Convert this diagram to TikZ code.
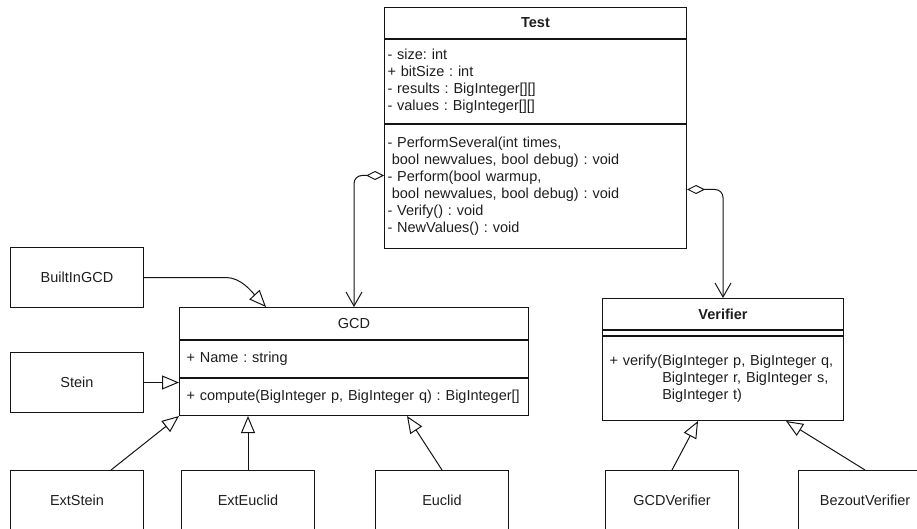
\documentclass[tikz,border=0pt]{standalone}
\usepackage{fontspec}
\setmainfont{Liberation Sans}
\usepackage{xcolor}
\definecolor{umlline}{RGB}{20, 20, 20}
\definecolor{umltext}{RGB}{30, 30, 30}
\newcommand{\umlsize}{\fontsize{14.5}{17}\selectfont\frenchspacing}
\usetikzlibrary{arrows.meta, positioning}

\begin{document}
\begin{tikzpicture}[x=1pt, y=-1pt, line width=1pt, node distance=0pt,
  umlbox/.style={draw=umlline, text=umltext, font=\umlsize, inner sep=0pt},
  classhead/.style={umlbox, font=\umlsize\bfseries, minimum height=31pt},
  members/.style={umlbox, align=left, inner xsep=7pt, text width=#1},
  plainclass/.style={umlbox, minimum width=133pt, minimum height=60pt, anchor=north west},
  inherit/.style={draw=umlline, -{Triangle[open, length=17pt, width=14pt]}},
  aggr/.style={draw=umlline, rounded corners=8pt,
    {Diamond[open, length=18pt, width=9pt]}-{Straight Barb[length=14pt, width=16pt]}}]
  \useasboundingbox (0,0) rectangle (917,529);
  \clip (0,0) rectangle (917,529);

  \node[classhead, minimum width=302pt, anchor=north west] (testhead) at (384,7) {Test};
  \node[members=296pt, inner xsep=3pt, minimum height=84pt, below=of testhead] (testattr)
    {- size: int\\+ bitSize : int\\- results : BigInteger[][]\\- values : BigInteger[][]};
  \node[members=296pt, inner xsep=3pt, minimum height=124pt, below=of testattr] (testops)
    {- PerformSeveral(int times,\\\hspace*{.3em}bool newvalues, bool debug) : void\\- Perform(bool warmup,\\\hspace*{.3em}bool newvalues, bool debug) : void\\- Verify() : void\\- NewValues() : void};

  \node[classhead, font=\umlsize, minimum width=349pt, minimum height=32pt, anchor=north west] (gcdhead) at (179,307) {GCD};
  \node[members=335pt, minimum height=37pt, below=of gcdhead] (gcdattr) {+ Name : string};
  \node[members=335pt, minimum height=37pt, below=of gcdattr] (gcdops)
    {+ compute(BigInteger p, BigInteger q) : BigInteger[]};

  \node[classhead, minimum width=241pt, anchor=north west] (verifierhead) at (602,298) {Verifier};
  \node[umlbox, minimum width=241pt, minimum height=5pt, below=of verifierhead] (verifierattr) {};
  \node[members=227pt, minimum height=84pt, below=of verifierattr] (verifierops)
    {+ verify(BigInteger p, BigInteger q,\\\phantom{+ verify(}BigInteger r, BigInteger s,\\\phantom{+ verify(}BigInteger t)};

  \node[plainclass] (builtin) at (10,247) {BuiltInGCD};
  \node[plainclass] (stein) at (10,352) {Stein};
  \node[plainclass] (extstein) at (10,470) {ExtStein};
  \node[plainclass, right=37pt of extstein] (exteuclid) {ExtEuclid};
  \node[plainclass, right=60pt of exteuclid] (euclid) {Euclid};
  \node[plainclass, right=96pt of euclid] (gcdverifier) {GCDVerifier};
  \node[plainclass, right=59pt of gcdverifier] (bezout) {BezoutVerifier};

  \draw[inherit] (builtin.east) -- ++(82,0) .. controls +(15,0) and +(-14,-15) .. ([xshift=87pt]gcdhead.north west);
  \draw[inherit] (stein.east) -- (stein.east -| gcdops.west);
  \draw[inherit] ([xshift=34pt]extstein.north) -- (gcdops.south west);
  \draw[inherit] (exteuclid.north) -- (exteuclid.north |- gcdops.south);
  \draw[inherit] (euclid.north) -- ([xshift=228pt]gcdops.south west);
  \draw[inherit] (gcdverifier.north) -- ([xshift=96pt]verifierops.south west);
  \draw[inherit] (bezout.north) -- ([xshift=184pt]verifierops.south west);
  \draw[aggr] ([yshift=11pt]testops.west) -| (gcdhead.north);
  \draw[aggr] ([yshift=-3pt]testops.east) -| (verifierhead.north);
\end{tikzpicture}
\end{document}
